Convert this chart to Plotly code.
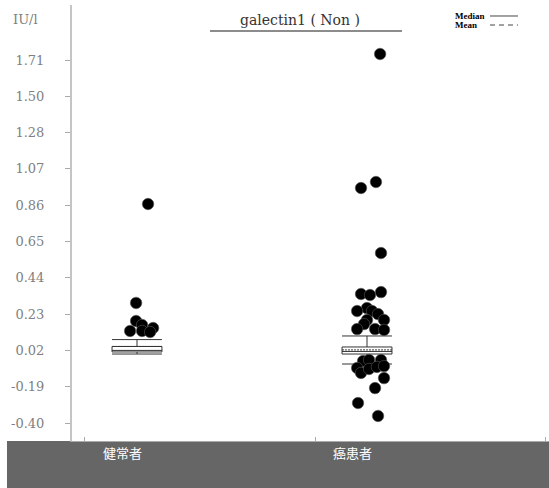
import plotly.graph_objects as go

# ---------------- data ----------------
categories = ["健常者", "癌患者"]
positions = [0, 1]

healthy_values = [0.873, 0.298, 0.193, 0.170, 0.135, 0.152, 0.135, 0.129]
healthy_jitter = [0.048, -0.004, -0.004, 0.022, -0.030, 0.070, 0.022, 0.057]

cancer_values = [1.745, 1.001, 0.966, 0.588, 0.361, 0.350, 0.344, 0.268, 0.251, 0.251,
                 0.233, 0.199, 0.199, 0.175, 0.146, 0.146, 0.141, -0.040, -0.034, -0.034,
                 -0.080, -0.109, -0.086, -0.074, -0.069, -0.139, -0.197, -0.284, -0.359]
cancer_jitter = [0.057, 0.039, -0.026, 0.061, 0.061, -0.026, 0.013, 0.0, -0.043, 0.022,
                 0.048, 0.074, 0.0, -0.013, -0.043, 0.035, 0.074, -0.017, 0.009, 0.061,
                 -0.043, -0.026, 0.009, 0.043, 0.074, 0.074, 0.035, -0.039, 0.048]

box_q1 = [0.013, 0.001]
box_median = [0.022, 0.016]
box_q3 = [0.045, 0.042]
box_lower = [0.001, -0.057]
box_upper = [0.085, 0.106]
box_mean = [0.045, 0.025]

ytick_vals = [-0.40, -0.189, 0.022, 0.233, 0.444, 0.655, 0.866, 1.077, 1.288, 1.499, 1.71]
ytick_text = ["-0.40", "-0.19", "0.02", "0.23", "0.44", "0.65", "0.86", "1.07", "1.28", "1.50", "1.71"]

title_text = "galectin1 ( Non )"
unit_text = "IU/l"

# ---------------- figure ----------------
SERIF = "DejaVu Serif"
fig = go.Figure()

fig.add_trace(go.Box(
    x=positions, q1=box_q1, median=box_median, q3=box_q3,
    lowerfence=box_lower, upperfence=box_upper, mean=box_mean,
    boxmean=True, boxpoints=False, width=0.217, whiskerwidth=1,
    fillcolor="white", line=dict(color="#333333", width=1),
    showlegend=False, hoverinfo="skip"))

for pos, vals, jit in [(positions[0], healthy_values, healthy_jitter),
                       (positions[1], cancer_values, cancer_jitter)]:
    fig.add_trace(go.Scatter(
        x=[pos + j for j in jit], y=vals, mode="markers",
        marker=dict(size=11.5, color="black", line=dict(color="#555555", width=0.6)),
        showlegend=False, hoverinfo="y"))

fig.update_layout(
    width=549, height=488,
    margin=dict(l=72, r=0, t=5, b=47),
    paper_bgcolor="white", plot_bgcolor="white",
    showlegend=False,
    xaxis=dict(range=[-0.2826, 1.7913], showgrid=False, zeroline=False,
               showline=True, linecolor="#aaaaaa", linewidth=1,
               tickvals=[-0.2304, 0.7739, 1.7739], ticks="inside", ticklen=4,
               tickcolor="#aaaaaa", showticklabels=False),
    yaxis=dict(range=[-0.5046, 2.030], showgrid=False, zeroline=False,
               showline=True, linecolor="#c4c4c4", linewidth=2,
               tickvals=ytick_vals, ticktext=ytick_text, ticks="outside",
               ticklen=5, tickcolor="#aaaaaa", ticklabelstandoff=18,
               tickfont=dict(family=SERIF, size=13, color="#7f7f7f")),
)

# grey footer band
fig.add_shape(type="rect", xref="paper", yref="paper", x0=-0.1363, x1=1.0,
              y0=-0.1078, y1=0, fillcolor="#666666", line=dict(width=0), layer="below")

for pos, cat in zip(positions, categories):
    fig.add_annotation(x=pos - 0.065, y=-0.026, xref="x", yref="paper", text=cat,
                       showarrow=False, xanchor="center", yanchor="middle",
                       font=dict(family="Noto Sans CJK JP", size=13, color="white"))

# title + underline
fig.add_annotation(x=0.478, y=0.9656, xref="paper", yref="paper", text=title_text,
                   showarrow=False, xanchor="center", yanchor="middle",
                   font=dict(family=SERIF, size=14, color="#333333"))
fig.add_shape(type="line", xref="paper", yref="paper", x0=0.2893, x1=0.6918,
              y0=0.9404, y1=0.9404, line=dict(color="#666666", width=1.5))

# unit label
fig.add_annotation(x=-0.0985, y=0.9656, xref="paper", yref="paper", text=unit_text,
                   showarrow=False, xanchor="center", yanchor="middle",
                   font=dict(family=SERIF, size=13, color="#7f7f7f"))

# mini legend
for label, ypos, dash in [("Median", 0.9748, "solid"), ("Mean", 0.9541, "5px,4px")]:
    fig.add_annotation(x=0.7987, y=ypos, xref="paper", yref="paper", text="<b>%s</b>" % label,
                       showarrow=False, xanchor="left", yanchor="middle",
                       font=dict(family="Liberation Serif", size=9, color="black"))
    fig.add_shape(type="line", xref="paper", yref="paper", x0=0.8763, x1=0.935,
                  y0=ypos, y1=ypos, line=dict(color="#444444", width=1, dash=dash))

fig.write_html("out.html", config={"displayModeBar": False},
               post_script="document.body.style.margin='0';")
